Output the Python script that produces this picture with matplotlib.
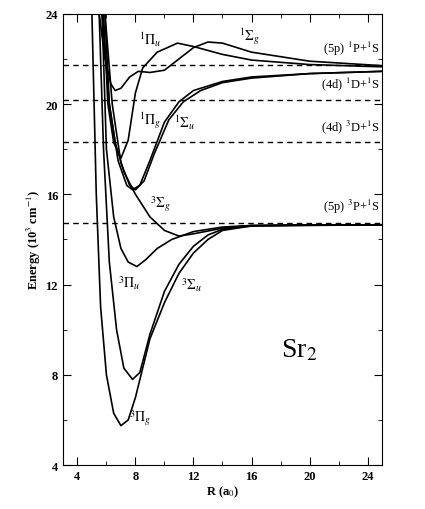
import matplotlib.pyplot as plt
from matplotlib.ticker import MultipleLocator

plt.rcParams['font.family'] = 'Liberation Serif'
plt.rcParams['mathtext.fontset'] = 'stix'

# potential curves (R in a0, energy in 10^3 cm^-1)
r_3pg = [5.0, 5.3, 5.6, 6.0, 6.5, 7.0, 7.5, 8.0, 8.5, 9, 10, 11, 12, 13, 14, 16, 20, 25]
e_3pg = [24, 16, 11, 8, 6.3, 5.75, 6.0, 7.0, 8.3, 9.6, 11.2, 12.5, 13.4, 14.0, 14.4, 14.6, 14.65, 14.65]
r_3su = [5.5, 5.8, 6.2, 6.7, 7.2, 7.8, 8.3, 9, 10, 11, 12, 13, 14, 16, 25]
e_3su = [24, 18, 13, 10, 8.3, 7.8, 8.1, 9.8, 11.7, 12.9, 13.7, 14.2, 14.45, 14.6, 14.65]
r_3pu = [5.7, 6.0, 6.5, 7.0, 7.5, 8.1, 8.7, 9.5, 10.5, 12, 14, 16, 25]
e_3pu = [24, 18, 15, 13.6, 13.0, 12.8, 13.1, 13.6, 14.0, 14.35, 14.55, 14.62, 14.65]
r_3sg = [5.9, 6.2, 6.6, 7.2, 8, 9, 10, 11, 12, 14, 16, 25]
e_3sg = [24, 20, 18.3, 17.0, 16.0, 15.0, 14.4, 14.15, 14.25, 14.5, 14.62, 14.65]
r_1pg = [5.7, 6.2, 6.8, 7.4, 7.8, 8.3, 9, 10, 11, 12, 14, 16, 20, 25]
e_1pg = [24, 20, 17.5, 16.4, 16.2, 16.4, 17.5, 19.2, 20.1, 20.6, 21.0, 21.2, 21.35, 21.45]
r_1su = [5.9, 6.4, 7.0, 7.6, 8.0, 8.6, 9.3, 10.3, 11.3, 12.5, 14, 16, 20, 25]
e_1su = [24, 20, 17.4, 16.4, 16.2, 16.6, 17.8, 19.3, 20.1, 20.6, 20.95, 21.15, 21.35, 21.45]
r_1pu = [5.8, 6.1, 6.5, 7.0, 7.5, 8.0, 8.5, 9.5, 10.9, 12, 14, 16, 20, 25]
e_1pu = [24, 20, 18.3, 17.6, 18.4, 20.5, 21.6, 22.3, 22.7, 22.55, 22.2, 21.95, 21.75, 21.65]
r_1sg = [5.5, 5.9, 6.3, 6.6, 7.0, 7.6, 8.2, 9.0, 10, 11, 12, 13, 14, 16, 20, 25]
e_1sg = [24, 22, 20.9, 20.6, 20.7, 21.2, 21.45, 21.4, 21.5, 22.0, 22.5, 22.75, 22.7, 22.3, 21.9, 21.7]

curves = [(r_3pg, e_3pg), (r_3su, e_3su), (r_3pu, e_3pu), (r_3sg, e_3sg),
          (r_1pg, e_1pg), (r_1su, e_1su), (r_1pu, e_1pu), (r_1sg, e_1sg)]

asym_e = [21.72, 20.17, 18.3, 14.72]
asym_labels = ['(5p) $^1$P+$^1$S', '(4d) $^1$D+$^1$S', '(4d) $^3$D+$^1$S', '(5p) $^3$P+$^1$S']

state_labels = [r'$^1\Pi_u$', r'$^1\Sigma_g$', r'$^1\Pi_g$', r'$^1\Sigma_u$',
                r'$^3\Sigma_g$', r'$^3\Pi_u$', r'$^3\Sigma_u$', r'$^3\Pi_g$']
state_x = [9.0, 15.9, 9.0, 11.4, 9.7, 7.6, 11.9, 8.3]
state_y = [22.9, 23.0, 19.3, 19.2, 15.6, 12.1, 12.0, 6.1]

fig = plt.figure(figsize=(4.25, 5.1), dpi=100)
ax = fig.add_axes([0.148, 0.086, 0.751, 0.885])

for r, e in curves:
    ax.plot(r, e, color='black', lw=1.2)
for e, lab in zip(asym_e, asym_labels):
    ax.axhline(e, color='black', lw=1.0, ls=(0, (4, 3)))
    ax.text(24.8, e + 0.35, lab, ha='right', va='bottom', fontsize=9)
for x, y, lab in zip(state_x, state_y, state_labels):
    ax.text(x, y, lab, ha='center', va='center', fontsize=10)
ax.text(19.3, 9.1, 'Sr$_2$', ha='center', va='center', fontsize=20)

ax.set_xlim(3, 25)
ax.set_ylim(4, 24)
ax.xaxis.set_major_locator(MultipleLocator(4))
ax.xaxis.set_minor_locator(MultipleLocator(2))
ax.yaxis.set_major_locator(MultipleLocator(4))
ax.yaxis.set_minor_locator(MultipleLocator(2))
ax.tick_params(which='both', direction='in', top=True, right=True, labelsize=9)
ax.tick_params(which='major', length=6)
ax.tick_params(which='minor', length=3)
for lab in ax.get_xticklabels() + ax.get_yticklabels():
    lab.set_fontweight('bold')
ax.set_xlabel('R (a$_0$)', fontsize=9, fontweight='bold', labelpad=1)
ax.set_ylabel('Energy (10$^3$ cm$^{-1}$)', fontsize=9, fontweight='bold', labelpad=2)

fig.savefig('out.png', dpi=100)
